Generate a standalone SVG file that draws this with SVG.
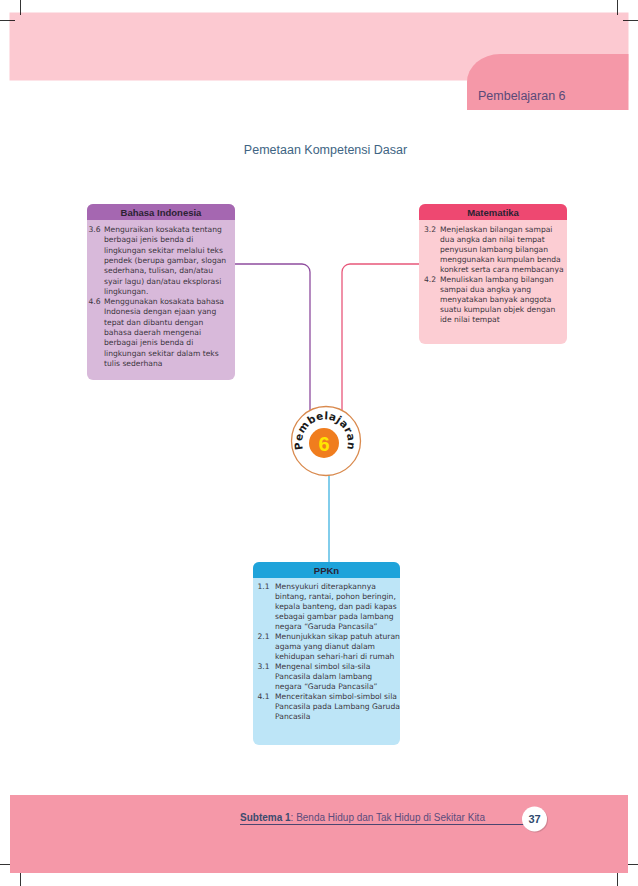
<svg xmlns="http://www.w3.org/2000/svg" width="638" height="886" viewBox="0 0 638 886">
<defs>
<style>
.crop{stroke:#000;stroke-width:0.8;fill:none}
.hd{font-family:"Liberation Sans",Arial,sans-serif;font-size:9.5px;font-weight:bold;fill:#2b2233;text-anchor:middle}
.bt{font-family:"DejaVu Sans","Liberation Sans",sans-serif;font-size:7.6px;fill:#3b3540}
.conn{fill:none;stroke-width:1.3}
</style>
</defs>
<rect width="638" height="886" fill="#ffffff"/>
<!-- header -->
<g id="header">
<rect x="9.5" y="12.5" width="619" height="68" fill="#fcc9d1"/>
<path d="M628.5 54 H500 A33 28 0 0 0 467 82 V110 H628.5 Z" fill="#f598a8"/>
<text x="478" y="100" font-family="Liberation Sans,Arial,sans-serif" font-size="12.5" fill="#5a4a78">Pembelajaran 6</text>
</g>
<g id="cropmarks">
<line class="crop" x1="20.5" y1="0" x2="20.5" y2="15"/>
<line class="crop" x1="0" y1="20.5" x2="15" y2="20.5"/>
<line class="crop" x1="617.5" y1="0" x2="617.5" y2="15"/>
<line class="crop" x1="623" y1="20.5" x2="638" y2="20.5"/>
<line class="crop" x1="20.5" y1="872" x2="20.5" y2="886"/>
<line class="crop" x1="0" y1="864.5" x2="15" y2="864.5"/>
<line class="crop" x1="617.5" y1="872" x2="617.5" y2="886"/>
<line class="crop" x1="623" y1="864.5" x2="638" y2="864.5"/>
</g>
<text id="title" x="325.5" y="154" text-anchor="middle" font-family="Liberation Sans,Arial,sans-serif" font-size="12.5" fill="#3e6483">Pemetaan Kompetensi Dasar</text>
<!-- connectors -->
<g id="connectors">
<path class="conn" stroke="#8e4c9e" d="M235 264 H302 A8 8 0 0 1 310 272 V411"/>
<path class="conn" stroke="#e8577a" d="M419 264 H350 A8 8 0 0 0 342 272 V411"/>
<path class="conn" stroke="#3fb2e0" d="M329 475 V562"/>
</g>
<!-- Bahasa Indonesia -->
<g id="bahasa">
<rect x="87" y="204" width="148" height="176" rx="6" fill="#d8b9da"/>
<path d="M87 220 V210 A6 6 0 0 1 93 204 H229 A6 6 0 0 1 235 210 V220 Z" fill="#a567b1"/>
<text class="hd" x="161" y="215.5">Bahasa Indonesia</text>
<g class="bt">
<text x="88.5" y="232">3.6</text>
<text x="104" y="232">Menguraikan kosakata tentang</text>
<text x="104" y="242.3">berbagai jenis benda di</text>
<text x="104" y="252.6">lingkungan sekitar melalui teks</text>
<text x="104" y="262.9">pendek (berupa gambar, slogan</text>
<text x="104" y="273.2">sederhana, tulisan, dan/atau</text>
<text x="104" y="283.5">syair lagu) dan/atau eksplorasi</text>
<text x="104" y="293.8">lingkungan.</text>
<text x="88.5" y="304.1">4.6</text>
<text x="104" y="304.1">Menggunakan kosakata bahasa</text>
<text x="104" y="314.4">Indonesia dengan ejaan yang</text>
<text x="104" y="324.7">tepat dan dibantu dengan</text>
<text x="104" y="335">bahasa daerah mengenai</text>
<text x="104" y="345.3">berbagai jenis benda di</text>
<text x="104" y="355.6">lingkungan sekitar dalam teks</text>
<text x="104" y="365.9">tulis sederhana</text>
</g>
</g>
<!-- Matematika -->
<g id="matematika">
<rect x="419" y="204" width="148" height="140" rx="6" fill="#fccdd3"/>
<path d="M419 220 V210 A6 6 0 0 1 425 204 H561 A6 6 0 0 1 567 210 V220 Z" fill="#ee4871"/>
<text class="hd" x="493" y="215.5">Matematika</text>
<g class="bt">
<text x="424" y="232">3.2</text>
<text x="440" y="232">Menjelaskan bilangan sampai</text>
<text x="440" y="242">dua angka dan nilai tempat</text>
<text x="440" y="252">penyusun lambang bilangan</text>
<text x="440" y="262">menggunakan kumpulan benda</text>
<text x="440" y="272">konkret serta cara membacanya</text>
<text x="424" y="282">4.2</text>
<text x="440" y="282">Menuliskan lambang bilangan</text>
<text x="440" y="292">sampai dua angka yang</text>
<text x="440" y="302">menyatakan banyak anggota</text>
<text x="440" y="312">suatu kumpulan objek dengan</text>
<text x="440" y="322">ide nilai tempat</text>
</g>
</g>
<!-- center -->
<g id="pembelajaran6">
<circle cx="326" cy="441" r="34.5" fill="#ffffff" stroke="#d98a4e" stroke-width="1.3"/>
<circle cx="324" cy="443" r="15" fill="#f07d1e"/>
<text x="324" y="450.5" text-anchor="middle" font-family="Liberation Sans,Arial,sans-serif" font-size="20" font-weight="bold" fill="#ffe600">6</text>
<path id="arc" d="M303.3 450 A23 23 0 1 1 346.7 450" fill="none"/>
<text font-family="DejaVu Sans,Liberation Sans,sans-serif" font-size="10.5" font-weight="bold" fill="#1a1a1a" letter-spacing="0.4"><textPath href="#arc" startOffset="50%" text-anchor="middle">Pembelajaran</textPath></text>
</g>
<!-- PPKn -->
<g id="ppkn">
<rect x="253" y="562" width="147" height="183" rx="6" fill="#bde5f7"/>
<path d="M253 578 V568 A6 6 0 0 1 259 562 H394 A6 6 0 0 1 400 568 V578 Z" fill="#1fa3da"/>
<text class="hd" x="326.5" y="573.5">PPKn</text>
<g class="bt">
<text x="257.5" y="589">1.1</text>
<text x="275" y="589">Mensyukuri diterapkannya</text>
<text x="275" y="599">bintang, rantai, pohon beringin,</text>
<text x="275" y="609">kepala banteng, dan padi kapas</text>
<text x="275" y="619">sebagai gambar pada lambang</text>
<text x="275" y="629">negara “Garuda Pancasila”</text>
<text x="257.5" y="639">2.1</text>
<text x="275" y="639">Menunjukkan sikap patuh aturan</text>
<text x="275" y="649">agama yang dianut dalam</text>
<text x="275" y="659">kehidupan sehari-hari di rumah</text>
<text x="257.5" y="669">3.1</text>
<text x="275" y="669">Mengenal simbol sila-sila</text>
<text x="275" y="679">Pancasila dalam lambang</text>
<text x="275" y="689">negara “Garuda Pancasila”</text>
<text x="257.5" y="699">4.1</text>
<text x="275" y="699">Menceritakan simbol-simbol sila</text>
<text x="275" y="709">Pancasila pada Lambang Garuda</text>
<text x="275" y="719">Pancasila</text>
</g>
</g>
<!-- footer -->
<g id="footer">
<rect x="10" y="795" width="618" height="78" fill="#f598a8"/>
<line x1="240" y1="824.5" x2="526" y2="824.5" stroke="#4a4670" stroke-width="1"/>
<text x="240" y="821" font-family="Liberation Sans,Arial,sans-serif" font-size="10"><tspan font-weight="bold" fill="#3b4b6e">Subtema 1</tspan><tspan fill="#5b4c7c">: Benda Hidup dan Tak Hidup di Sekitar Kita</tspan></text>
<circle cx="535.5" cy="820" r="12.5" fill="#b0707c" opacity="0.5"/>
<circle cx="534.5" cy="819" r="12.5" fill="#ffffff"/>
<text x="534.5" y="823" text-anchor="middle" font-family="Liberation Sans,Arial,sans-serif" font-size="11" font-weight="bold" fill="#2f4a6e">37</text>
</g>
</svg>
